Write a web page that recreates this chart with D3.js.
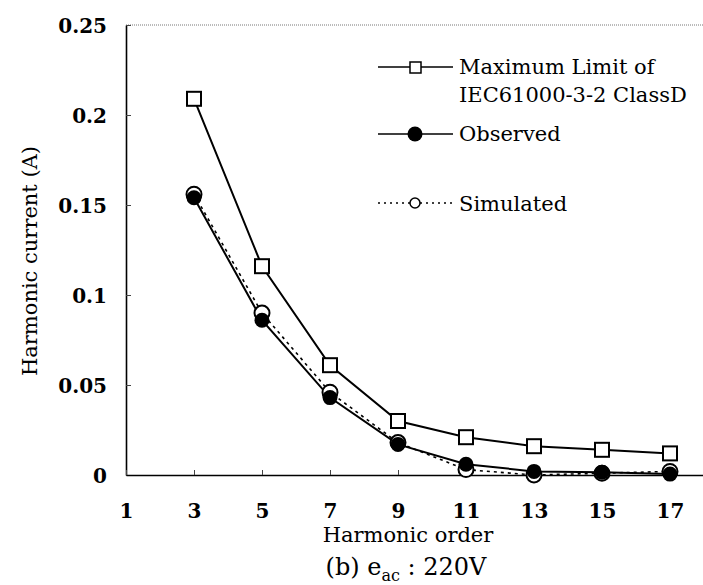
<!DOCTYPE html>
<html>
<head>
<meta charset="utf-8">
<script src="https://cdn.jsdelivr.net/npm/d3@7"></script>
<style>
body { margin: 0; background: #fff; }
svg { display: block; }
</style>
</head>
<body>
<svg id="chart" width="703" height="585"></svg>
<script>
// harmonic orders on the x axis
var orders = [3, 5, 7, 9, 11, 13, 15, 17];
var xTicks = [1, 3, 5, 7, 9, 11, 13, 15, 17];
var yTicks = [0, 0.05, 0.1, 0.15, 0.2, 0.25];

// values (A)
var limitValues = [0.209, 0.116, 0.061, 0.030, 0.021, 0.016, 0.014, 0.012];
var observedValues = [0.154, 0.086, 0.043, 0.017, 0.006, 0.002, 0.0015, 0.0005];
var simulatedValues = [0.156, 0.090, 0.046, 0.018, 0.003, 0.0, 0.001, 0.002];

var font = "'DejaVu Serif', serif";
var svg = d3.select("#chart");

var x = d3.scaleLinear().domain([1, 18]).range([126, 704]);
var y = d3.scaleLinear().domain([0, 0.25]).range([475, 25]);

//top frame, dotted grey
svg.append("line")
.attr("x1", 126).attr("x2", 703)
.attr("y1", y(0.25)).attr("y2", y(0.25))
.style("stroke", "#777")
.style("stroke-width", 1)
.style("stroke-dasharray", "1,1");

var yAxis = d3.axisLeft(y)
.tickValues(yTicks)
.tickSizeInner(-5)
.tickSizeOuter(0)
.tickPadding(19)
.tickFormat(function(d){ return d === 0 ? "0" : String(+d.toFixed(2)); });

var gy = svg.append("g")
.attr("transform", "translate(126,0)")
.call(yAxis);

var xAxis = d3.axisBottom(x)
.tickValues(xTicks)
.tickSizeInner(-5)
.tickSizeOuter(0)
.tickPadding(31)
.tickFormat(d3.format("d"));

var gx = svg.append("g")
.attr("transform", "translate(0,475)")
.call(xAxis);

[gx, gy].forEach(function(g){
	g.select(".domain").style("stroke", "#000").style("stroke-width", 1.6);
	g.selectAll(".tick line").style("stroke", "#444").style("stroke-width", 1);
	g.selectAll(".tick text")
	.style("font-family", font)
	.style("font-weight", "bold")
	.style("font-size", "20px")
	.style("fill", "#000");
});
gy.selectAll(".tick text").attr("dy", "0.36em");
gx.selectAll(".tick text").attr("dy", "0.62em");

//series
var rows = orders.map(function(o, i){
	return {order: o, limit: limitValues[i], observed: observedValues[i], simulated: simulatedValues[i]};
});

function lineFor(key){
	return d3.line()
	.x(function(d){ return x(d.order); })
	.y(function(d){ return y(d[key]); });
}

svg.append("path")
.datum(rows)
.attr("d", lineFor("simulated"))
.style("fill", "none")
.style("stroke", "#000")
.style("stroke-width", 1.6)
.style("stroke-dasharray", "3,4");

svg.append("path")
.datum(rows)
.attr("d", lineFor("limit"))
.style("fill", "none")
.style("stroke", "#000")
.style("stroke-width", 2);

svg.append("path")
.datum(rows)
.attr("d", lineFor("observed"))
.style("fill", "none")
.style("stroke", "#000")
.style("stroke-width", 2);

svg.append("g").selectAll("circle")
.data(rows)
.enter()
.append("circle")
.attr("cx", function(d){ return x(d.order); })
.attr("cy", function(d){ return y(d.simulated); })
.attr("r", 7.5)
.style("fill", "#fff")
.style("stroke", "#000")
.style("stroke-width", 2);

svg.append("g").selectAll("circle")
.data(rows)
.enter()
.append("circle")
.attr("cx", function(d){ return x(d.order); })
.attr("cy", function(d){ return y(d.observed); })
.attr("r", 7.5)
.style("fill", "#000");

svg.append("g").selectAll("rect")
.data(rows)
.enter()
.append("rect")
.attr("x", function(d){ return x(d.order) - 7; })
.attr("y", function(d){ return y(d.limit) - 7; })
.attr("width", 14)
.attr("height", 14)
.style("fill", "#fff")
.style("stroke", "#000")
.style("stroke-width", 2);

//legend
var legend = svg.append("g").style("font-family", font).style("font-size", "21px");

legend.append("line").attr("x1", 378).attr("x2", 453).attr("y1", 67).attr("y2", 67)
.style("stroke", "#000").style("stroke-width", 1.5);
legend.append("rect").attr("x", 410).attr("y", 62).attr("width", 11).attr("height", 11)
.style("fill", "#fff").style("stroke", "#000").style("stroke-width", 1.5);
legend.append("text").attr("x", 459).attr("y", 74).text("Maximum Limit of");
legend.append("text").attr("x", 459).attr("y", 102).text("IEC61000-3-2 ClassD");

legend.append("line").attr("x1", 378).attr("x2", 453).attr("y1", 134).attr("y2", 134)
.style("stroke", "#000").style("stroke-width", 1.5);
legend.append("circle").attr("cx", 415).attr("cy", 134).attr("r", 7.5).style("fill", "#000");
legend.append("text").attr("x", 459).attr("y", 141).text("Observed");

legend.append("line").attr("x1", 378).attr("x2", 453).attr("y1", 203).attr("y2", 203)
.style("stroke", "#000").style("stroke-width", 1.5).style("stroke-dasharray", "2,4");
legend.append("circle").attr("cx", 415).attr("cy", 203).attr("r", 5)
.style("fill", "#fff").style("stroke", "#000").style("stroke-width", 1.5);
legend.append("text").attr("x", 459).attr("y", 211).text("Simulated");

//axis titles
svg.append("text")
.attr("transform", "translate(37,261) rotate(-90)")
.attr("text-anchor", "middle")
.style("font-family", font)
.style("font-size", "21px")
.text("Harmonic current (A)");

svg.append("text")
.attr("x", 408)
.attr("y", 542)
.attr("text-anchor", "middle")
.style("font-family", font)
.style("font-size", "21px")
.text("Harmonic order");

var cap = svg.append("text")
.attr("x", 406)
.attr("y", 575)
.attr("text-anchor", "middle")
.style("font-family", font)
.style("font-size", "24px");
cap.append("tspan").text("(b) e");
cap.append("tspan").attr("dy", 6).style("font-size", "16px").text("ac");
cap.append("tspan").attr("dy", -6).text(" : 220V");
</script>
</body>
</html>
